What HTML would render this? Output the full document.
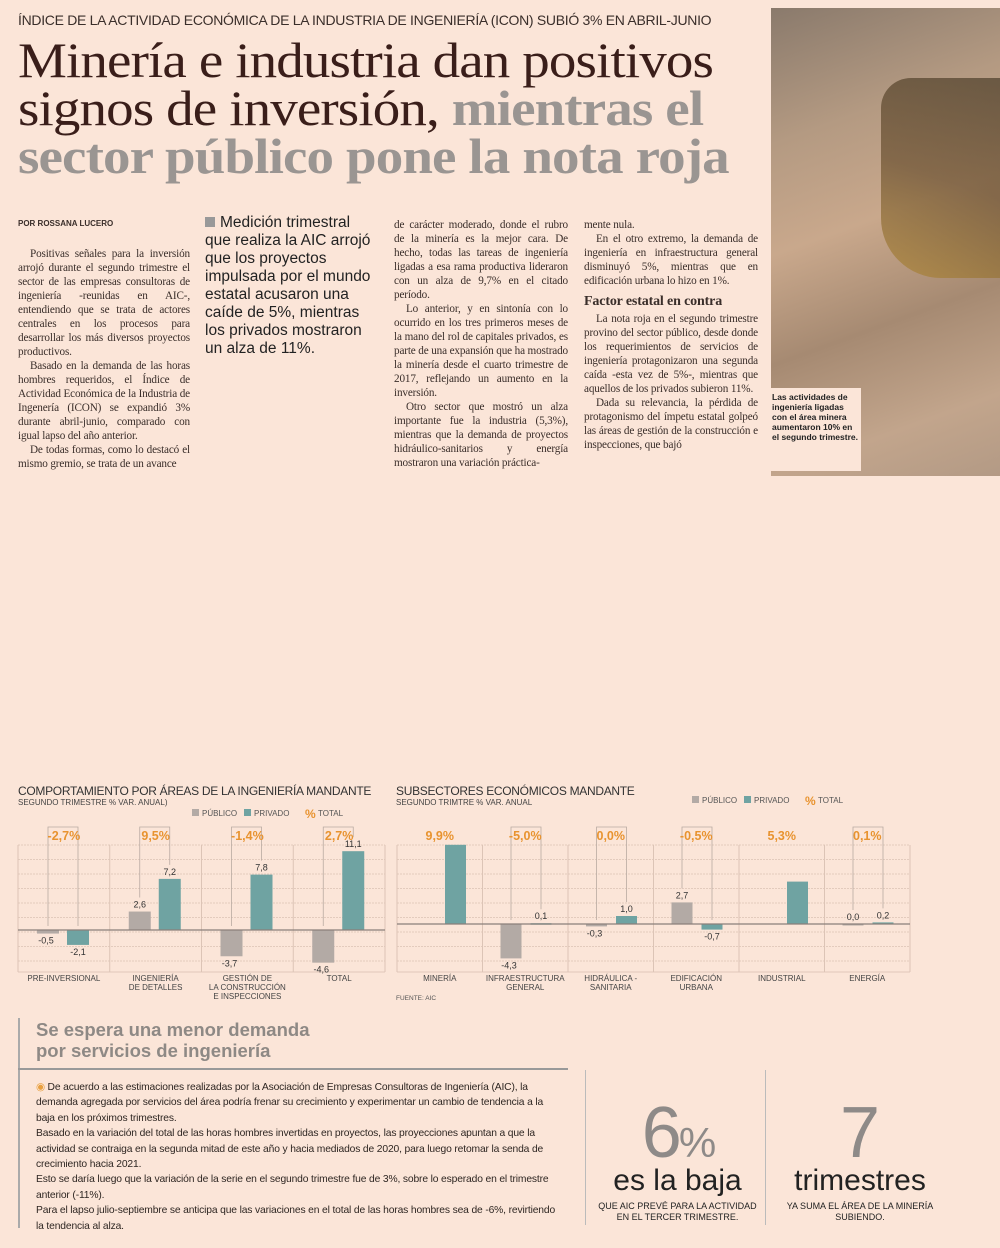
<!DOCTYPE html>
<html><head><meta charset="utf-8">
<style>
body{margin:0;background:#fbe5d8;}
#page{position:relative;width:1000px;height:1248px;overflow:hidden;background:#fbe5d8;font-family:"Liberation Serif",serif;color:#3a2e2a;}
.abs{position:absolute;}
.kicker{left:18px;top:12px;font-family:"Liberation Sans",sans-serif;font-size:14px;color:#3a2e2a;letter-spacing:-0.3px;white-space:nowrap;}
.head{left:18px;top:36px;font-size:50px;line-height:48px;color:#3a1e1a;letter-spacing:-0.8px;white-space:nowrap;transform:scaleX(1.1);transform-origin:left top;}
.head b{color:#9a9592;}
.col{font-size:11.2px;line-height:14px;text-align:justify;color:#3a2e2a;letter-spacing:-0.15px;}
.col p{margin:0;text-indent:12px;}
.col h4{margin:6px 0 2px;font-size:14px;line-height:16px;}
.by{left:18px;top:219px;font-family:"Liberation Sans",sans-serif;font-size:8px;font-weight:bold;}
.quote{left:205px;top:214px;width:170px;font-family:"Liberation Sans",sans-serif;font-size:15.5px;line-height:18px;color:#222;}
.ctitle{font-family:"Liberation Sans",sans-serif;font-size:12px;color:#333;letter-spacing:-0.3px;white-space:nowrap;}
.csub{font-family:"Liberation Sans",sans-serif;font-size:8px;color:#444;white-space:nowrap;}
svg text{font-family:"Liberation Sans",sans-serif;}
.box-text{font-family:"Liberation Sans",sans-serif;font-size:10.3px;line-height:15.4px;color:#2e2622;letter-spacing:-0.15px;}
</style></head><body>
<div id="page">
<div class="abs kicker">ÍNDICE DE LA ACTIVIDAD ECONÓMICA DE LA INDUSTRIA DE INGENIERÍA (ICON) SUBIÓ 3% EN ABRIL-JUNIO</div>
<div class="abs head">Minería e industria dan positivos<br>signos de inversión, <b>mientras el<br>sector público pone la nota roja</b></div>

<div class="abs" style="left:771px;top:8px;width:229px;height:468px;background:linear-gradient(160deg,#8a7a6c 0%,#b49a82 25%,#c9a88c 45%,#a68a72 65%,#c2a58c 85%,#b39a85 100%);">
 <div class="abs" style="left:110px;top:70px;width:119px;height:200px;background:linear-gradient(200deg,#4a3c28,#6a5030 50%,#b08838);opacity:.7;border-radius:30px 0 0 60px;"></div>
 <div class="abs" style="left:-3px;top:380px;width:93px;height:83px;background:#fbe5d8;"></div>
 <div class="abs" style="left:1px;top:384px;width:88px;font-family:'Liberation Sans',sans-serif;font-size:8.5px;line-height:10px;font-weight:bold;color:#222;">Las actividades de ingeniería ligadas con el área minera aumentaron 10% en el segundo trimestre.</div>
</div>

<div class="abs by">POR ROSSANA LUCERO</div>
<div class="abs col" style="left:18px;top:247px;width:172px;">
<p>Positivas señales para la inversión arrojó durante el segundo trimestre el sector de las empresas consultoras de ingeniería -reunidas en AIC-, entendiendo que se trata de actores centrales en los procesos para desarrollar los más diversos proyectos productivos.</p>
<p>Basado en la demanda de las horas hombres requeridos, el Índice de Actividad Económica de la Industria de Ingenería (ICON) se expandió 3% durante abril-junio, comparado con igual lapso del año anterior.</p>
<p>De todas formas, como lo destacó el mismo gremio, se trata de un avance</p></div>
<div class="abs quote"><span style="display:inline-block;width:10px;height:10px;background:#999;margin-right:5px;"></span>Medición trimestral que realiza la AIC arrojó que los proyectos impulsada por el mundo estatal acusaron una caíde de 5%, mientras los privados mostraron un alza de 11%.</div>
<div class="abs col" style="left:394px;top:218px;width:174px;">
<p style="text-indent:0">de carácter moderado, donde el rubro de la minería es la mejor cara. De hecho, todas las tareas de ingeniería ligadas a esa rama productiva lideraron con un alza de 9,7% en el citado período.</p>
<p>Lo anterior, y en sintonía con lo ocurrido en los tres primeros meses de la mano del rol de capitales privados, es parte de una expansión que ha mostrado la minería desde el cuarto trimestre de 2017, reflejando un aumento en la inversión.</p>
<p>Otro sector que mostró un alza importante fue la industria (5,3%), mientras que la demanda de proyectos hidráulico-sanitarios y energía mostraron una variación práctica-</p></div>
<div class="abs col" style="left:584px;top:218px;width:174px;">
<p style="text-indent:0">mente nula.</p>
<p>En el otro extremo, la demanda de ingeniería en infraestructura general disminuyó 5%, mientras que en edificación urbana lo hizo en 1%.</p>
<h4>Factor estatal en contra</h4>
<p>La nota roja en el segundo trimestre provino del sector público, desde donde los requerimientos de servicios de ingeniería protagonizaron una segunda caída -esta vez de 5%-, mientras que aquellos de los privados subieron 11%.</p>
<p>Dada su relevancia, la pérdida de protagonismo del ímpetu estatal golpeó las áreas de gestión de la construcción e inspecciones, que bajó</p></div>

<div class="abs ctitle" style="left:18px;top:784px;">COMPORTAMIENTO POR ÁREAS DE LA INGENIERÍA MANDANTE</div>
<div class="abs csub" style="left:18px;top:798px;">SEGUNDO TRIMESTRE % VAR. ANUAL)</div>
<div class="abs ctitle" style="left:396px;top:784px;">SUBSECTORES ECONÓMICOS MANDANTE</div>
<div class="abs csub" style="left:396px;top:798px;">SEGUNDO TRIMTRE % VAR. ANUAL</div>
<svg id="charts" class="abs" style="left:0;top:0" width="1000" height="1010"></svg>

<div class="abs" style="left:18px;top:1018px;width:2px;height:210px;background:#aaa;"></div>
<div class="abs" style="left:36px;top:1019px;font-family:'Liberation Sans',sans-serif;font-weight:bold;font-size:18.5px;line-height:21px;color:#8e8985;">Se espera una menor demanda<br>por servicios de ingeniería</div>
<div class="abs" style="left:18px;top:1068px;width:550px;height:2px;background:#999;"></div>
<div class="abs box-text" style="left:36px;top:1080px;width:520px;"><span style="color:#e8a040">◉</span> De acuerdo a las estimaciones realizadas por la Asociación de Empresas Consultoras de Ingeniería (AIC), la demanda agregada por servicios del área podría frenar su crecimiento y experimentar un cambio de tendencia a la baja en los próximos trimestres.<br>Basado en la variación del total de las horas hombres invertidas en proyectos, las proyecciones apuntan a que la actividad se contraiga en la segunda mitad de este año y hacia mediados de 2020, para luego retomar la senda de crecimiento hacia 2021.<br>Esto se daría luego que la variación de la serie en el segundo trimestre fue de 3%, sobre lo esperado en el trimestre anterior (-11%).<br>Para el lapso julio-septiembre se anticipa que las variaciones en el total de las horas hombres sea de -6%, revirtiendo la tendencia al alza.</div>
<div class="abs" style="left:585px;top:1070px;width:1px;height:155px;background:#bbb;"></div>
<div class="abs" style="left:765px;top:1070px;width:1px;height:155px;background:#bbb;"></div>
<div class="abs" style="left:590px;top:1098px;width:175px;text-align:center;font-family:'Liberation Sans',sans-serif;color:#8e8a88;font-size:72px;line-height:70px;letter-spacing:-3px;">6<span style="font-size:42px">%</span></div>
<div class="abs" style="left:590px;top:1165px;width:175px;text-align:center;font-family:'Liberation Sans',sans-serif;color:#222;font-size:30px;line-height:32px;">es la baja</div>
<div class="abs" style="left:590px;top:1201px;width:175px;text-align:center;font-family:'Liberation Sans',sans-serif;color:#222;font-size:9px;line-height:11px;">QUE AIC PREVÉ PARA LA ACTIVIDAD<br>EN EL TERCER TRIMESTRE.</div>
<div class="abs" style="left:770px;top:1098px;width:180px;text-align:center;font-family:'Liberation Sans',sans-serif;color:#8e8a88;font-size:72px;line-height:70px;">7</div>
<div class="abs" style="left:770px;top:1165px;width:180px;text-align:center;font-family:'Liberation Sans',sans-serif;color:#222;font-size:30px;line-height:32px;">trimestres</div>
<div class="abs" style="left:770px;top:1201px;width:180px;text-align:center;font-family:'Liberation Sans',sans-serif;color:#222;font-size:9px;line-height:11px;">YA SUMA EL ÁREA DE LA MINERÍA<br>SUBIENDO.</div>
</div>
<script>
const c1Categories=[["PRE-INVERSIONAL"],["INGENIERÍA","DE DETALLES"],["GESTIÓN DE","LA CONSTRUCCIÓN","E INSPECCIONES"],["TOTAL"]];
const c1Publico=[-0.5,2.6,-3.7,-4.6];
const c1Privado=[-2.1,7.2,7.8,11.1];
const c1Total=["-2,7%","9,5%","-1,4%","2,7%"];
const c2Categories=[["MINERÍA"],["INFRAESTRUCTURA","GENERAL"],["HIDRÁULICA -","SANITARIA"],["EDIFICACIÓN","URBANA"],["INDUSTRIAL"],["ENERGÍA"]];
const c2Publico=[null,-4.3,-0.3,2.7,null,0.0];
const c2Privado=[9.9,0.1,1.0,-0.7,5.3,0.2];
const c2Total=["9,9%","-5,0%","0,0%","-0,5%","5,3%","0,1%"];
const svg=document.getElementById('charts');
const NS='http://www.w3.org/2000/svg';
function el(t,a,p){const e=document.createElementNS(NS,t);for(const k in a)e.setAttribute(k,a[k]);(p||svg).appendChild(e);return e;}
function fmt(v){return v.toFixed(1).replace('.',',');}
function chart(o){
 const g=el('g',{});
 
 
 const y=v=>o.zero-v*o.scale;
 const n=o.cats.length, gw=(o.x1-o.x0)/n;
 for(let yy=o.top;yy<=o.bottom;yy+=14.5){el('line',{x1:o.x0,x2:o.x1,y1:yy,y2:yy,stroke:'#e3cbbd','stroke-width':1,'stroke-dasharray':'2,1'},g);}
 el('line',{x1:o.x0,x2:o.x1,y1:o.bottom,y2:o.bottom,stroke:'#e0c8ba'},g);
 for(let i=0;i<=n;i++){el('line',{x1:o.x0+i*gw,x2:o.x0+i*gw,y1:o.top,y2:o.bottom,stroke:'#dcc4b6'},g);}
 const lx=o.legendX, ly=o.legendY;
 el('rect',{x:lx,y:ly-7,width:7,height:7,fill:'#b3aaa5'},g);
 el('text',{x:lx+10,y:ly,'font-size':8,fill:'#555'},g).textContent='PÚBLICO';
 el('rect',{x:lx+52,y:ly-7,width:7,height:7,fill:'#6fa3a2'},g);
 el('text',{x:lx+62,y:ly,'font-size':8,fill:'#555'},g).textContent='PRIVADO';
 el('text',{x:lx+113,y:ly+2,'font-size':12,fill:'#e8932f','font-weight':'bold'},g).textContent='%';
 el('text',{x:lx+126,y:ly,'font-size':8,fill:'#555'},g).textContent='TOTAL';
 for(let i=0;i<n;i++){
  const gx=o.x0+i*gw;
  const pubX=gx+o.offPub, priX=gx+o.offPri, bw=o.bw;
  const pv=o.pub[i], rv=o.pri[i];
  if(o.bracket[i]){
   const bx1=pubX+bw/2, bx2=priX+bw/2, bt=o.top-18;
   const e1=pv==null?o.zero:(pv>=0?y(pv)-14:o.zero-4), e2=rv>=0?y(rv)-14:o.zero-4;
   el('polyline',{points:`${bx1},${e1} ${bx1},${bt} ${bx2},${bt} ${bx2},${e2}`,fill:'none',stroke:'#b8aaa2','stroke-width':0.8},g);
  }
  const tt=el('text',{x:gx+gw/2,y:o.top-5,'font-size':12.5,'font-weight':'bold',fill:'#e8932f','text-anchor':'middle'},g);
  tt.textContent=o.tot[i];
  
  if(pv!=null){
   const r=el('rect',{x:pubX,y:Math.min(y(pv),o.zero),width:bw,height:Math.max(Math.abs(y(pv)-o.zero),1.5),fill:'#b3aaa5'},g);
   
   
   el('text',{x:pubX+bw/2-(pv<0?2:0),y:pv>=0?y(pv)-4:y(pv)+10,'font-size':9,fill:'#333','text-anchor':'middle'},g).textContent=fmt(pv);
  }
  const r2=el('rect',{x:priX,y:Math.min(y(rv),o.zero),width:bw,height:Math.max(Math.abs(y(rv)-o.zero),1.5),fill:'#6fa3a2'},g);
  
  
  if(o.showPri[i]) el('text',{x:priX+bw/2,y:rv>=0?y(rv)-4:y(rv)+10,'font-size':9,fill:'#333','text-anchor':'middle'},g).textContent=fmt(rv);
  o.cats[i].forEach((l,j)=>{
   const t=el('text',{x:gx+gw/2,y:o.bottom+9+j*9,'font-size':8,fill:'#444','text-anchor':'middle'},g);
   t.textContent=l;
   
  });
 }
 el('line',{x1:o.x0,x2:o.x1,y1:o.zero,y2:o.zero,stroke:'#8a7f7a','stroke-width':1.2},g);
}
chart({name:'chart-areas-ingenieria',cats:c1Categories,pub:c1Publico,pri:c1Privado,tot:c1Total,x0:18,x1:385,top:845,bottom:972,zero:930,scale:7.1,bw:22,offPub:19,offPri:49,legendX:192,legendY:816,bracket:[1,1,1,1],showPri:[1,1,1,1]});
chart({name:'chart-subsectores',cats:c2Categories,pub:c2Publico,pri:c2Privado,tot:c2Total,x0:397,x1:910,top:845,bottom:972,zero:924,scale:8,bw:21,offPub:18,offPri:48,legendX:692,legendY:803,bracket:[0,1,1,1,0,1],showPri:[0,1,1,1,0,1]});
const src=el('text',{x:396,y:1000,'font-size':6.5,fill:'#555'});
src.textContent='FUENTE: AIC';


</script>
</body></html>
